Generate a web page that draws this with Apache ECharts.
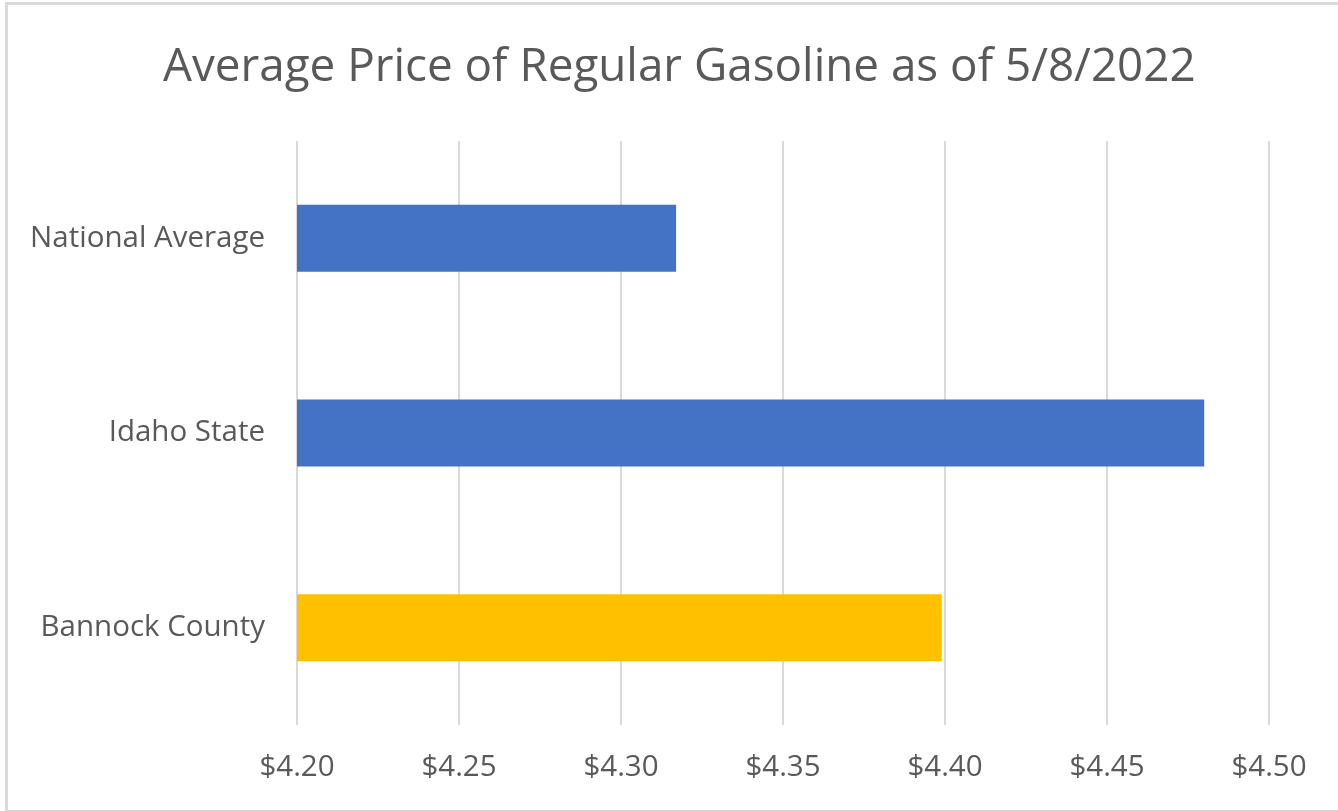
<!DOCTYPE html>
<html>
<head>
<meta charset="utf-8">
<script src="https://cdn.jsdelivr.net/npm/echarts@6/dist/echarts.min.js"></script>
<style>
  html, body { margin: 0; padding: 0; background: #fff; overflow: hidden; }
  .frame {
    position: absolute; left: 5px; top: 2px; width: 1350px; height: 805px;
    border-left: 3px solid #d9d9d9; border-top: 3px solid #d9d9d9; border-bottom: 2px solid #d9d9d9;
  }
  #chart { position: absolute; left: 0; top: 0; width: 1338px; height: 811px; }
</style>
</head>
<body>
<div class="frame"></div>
<div id="chart"></div>
<script>
// data
const categories = ['National Average', 'Idaho State', 'Bannock County'];
const prices = [4.317, 4.48, 4.399];
const barColors = ['#4472c4', '#4472c4', '#ffc000'];

const chart = echarts.init(document.getElementById('chart'));

const option = {
  textStyle: {
    fontFamily: 'Open Sans'
  },
  title: {
    text: 'Average Price of Regular Gasoline as of 5/8/2022',
    left: 158,
    top: 40,
    textStyle: {
      fontSize: 45.8,
      fontWeight: 'normal',
      color: '#595959'
    }
  },
  grid: {
    left: 297,
    right: 69,
    top: 141,
    bottom: 86
  },
  xAxis: {
    type: 'value',
    min: 4.2,
    max: 4.5,
    interval: 0.05,
    axisLine: { show: false },
    axisTick: { show: false },
    splitLine: {
      lineStyle: { color: '#d9d9d9', width: 2 }
    },
    axisLabel: {
      margin: 28,
      fontSize: 29.5,
      color: '#595959',
      formatter: (v) => '$' + v.toFixed(2)
    }
  },
  yAxis: {
    type: 'category',
    inverse: true,
    data: categories,
    axisLine: { show: false },
    axisTick: { show: false },
    axisLabel: {
      margin: 32,
      fontSize: 29.5,
      color: '#595959'
    }
  },
  series: [{
    type: 'bar',
    barWidth: 67,
    data: prices.map((v, i) => ({
      value: v,
      itemStyle: { color: barColors[i] }
    }))
  }]
};

chart.setOption(option);
</script>
</body>
</html>
